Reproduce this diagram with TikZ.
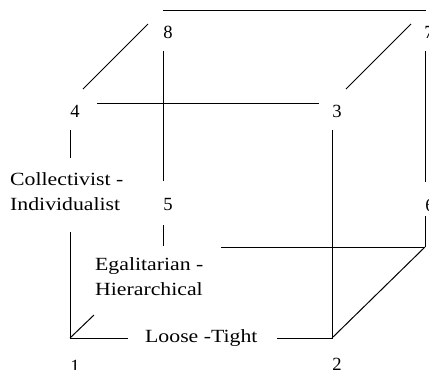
\documentclass[tikz,border=0pt]{standalone}
\usepackage{fontspec}
\setmainfont{Liberation Serif}
\newfontfamily\widefont[FakeStretch=1.17]{Liberation Serif}
\usetikzlibrary{positioning}

\tikzset{
    num/.style={anchor=base, inner sep=0pt, font=\fontsize{18.6}{22}\selectfont},
    axis/.style={anchor=base west, inner sep=0pt, align=left, font=\widefont\fontsize{18.6}{25}\selectfont},
    edge/.style={line width=1pt, black}
}

\begin{document}
\begin{tikzpicture}[x=1pt, y=-1pt]
    \useasboundingbox (0,0) rectangle (429,370);
    \clip (0,0) rectangle (429,370);

    % corner numbers
    \node[num] (n1) at (75,372) {1};
    \node[num] (n2) at (337,370) {2};
    \node[num] (n3) at (337,117) {3};
    \node[num] (n4) at (75,117) {4};
    \node[num] (n5) at (168,210) {5};
    \node[num] (n6) at (430,211) {6};
    \node[num] (n7) at (429,38) {7};
    \node[num] (n8) at (168,38) {8};

    % axis names (base = last line)
    \node[axis] (coll) at (10,210) {Collectivist -\\Individualist};
    \node[axis] (egal) at (95,295) {Egalitarian -\\Hierarchical};
    \node[axis] (loose) at (145,342) {Loose -Tight};

    % back face
    \draw[edge] (163,10) -- (426,10);
    \draw[edge] (163,51) -- (163,181);
    \draw[edge] (163,225) -- (163,246);
    \draw[edge] (221,247) -- (425,247);
    \draw[edge] (425,51) -- (425,182);
    \draw[edge] (425,216) -- (425,247);

    % front face
    \draw[edge] (97,103) -- (319,103);
    \draw[edge] (70,130) -- (70,158);
    \draw[edge] (70,232) -- (70,338) -- (128,338);
    \draw[edge] (277,338) -- (332,338) -- (332,130);

    % depth edges
    \draw[edge] (83,89) -- (148,24);
    \draw[edge] (346,89) -- (411,24);
    \draw[edge] (70,338) -- (94,315);
    \draw[edge] (332,338) -- (425,247);
\end{tikzpicture}
\end{document}
